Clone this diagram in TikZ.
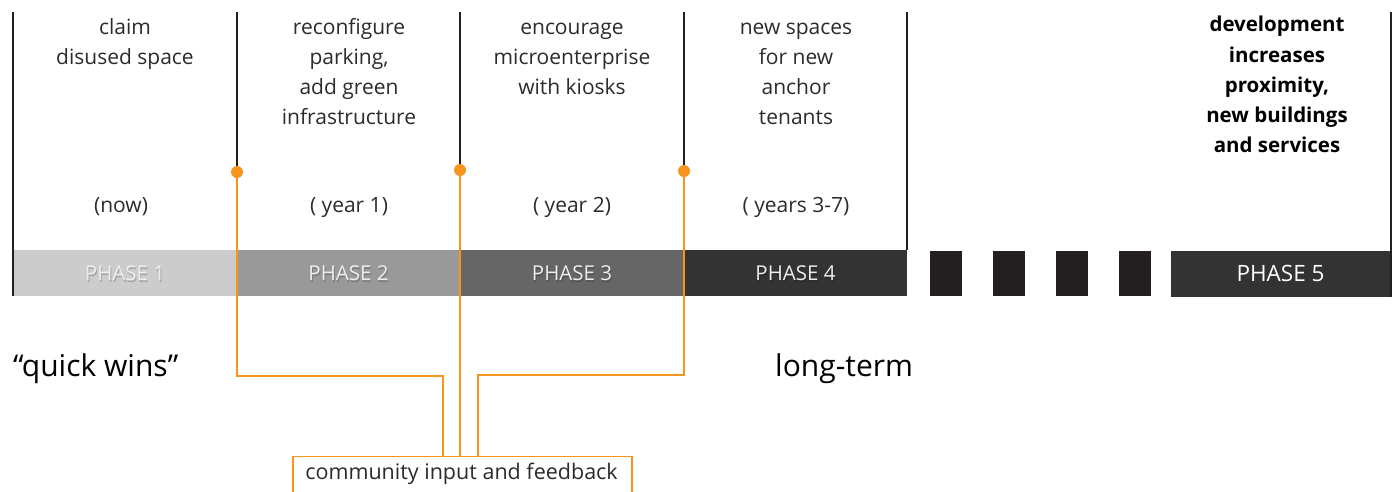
\documentclass[tikz,border=0pt]{standalone}
\usepackage{fontspec}
\setmainfont{Open Sans}
\definecolor{orng}{HTML}{F7941E}
\definecolor{ink}{HTML}{231F20}
\definecolor{txtc}{HTML}{2B2B2B}
\begin{document}
\begin{tikzpicture}[x=1pt,y=-1pt,
  toptxt/.style={font=\fontsize{21}{30}\selectfont, text=txtc, align=center, inner sep=0pt, anchor=north},
  yeartxt/.style={font=\fontsize{21}{30}\selectfont, text=txtc, inner sep=0pt, anchor=base},
  bar/.style={minimum height=46pt, inner sep=0pt, text=white!93!black, font=\fontsize{20.5}{22}\selectfont},
  sq/.style={fill=ink, minimum width=32pt, minimum height=45pt, inner sep=0pt},
  divider/.style={draw=ink, line width=1.2pt},
  feed/.style={draw=orng, line width=1.4pt},
  dot/.style={circle, fill=orng, minimum size=12pt, inner sep=0pt},
  bigtxt/.style={font=\fontsize{30}{34}\selectfont, text=black, inner sep=0pt, anchor=base west}]
\useasboundingbox (0,0) rectangle (1394,491);
\clip (0,0) rectangle (1394,491);
% phase bars
\node[bar, fill=black!20, minimum width=224pt] (p1) at (125,273) {};
\node[bar, fill=black!40, minimum width=223pt] (p2) at (348.5,273) {};
\node[bar, fill=black!60, minimum width=224pt] (p3) at (572,273) {};
\node[bar, fill=black!80, minimum width=223pt] (p4) at (795.5,273) {};
\node[sq] (s1) at (946,273.5) {};
\node[sq] (s2) at (1009,273.5) {};
\node[sq] (s3) at (1072,273.5) {};
\node[sq] (s4) at (1135,273.5) {};
\node[bar, fill=black!80, minimum width=219pt] (p5) at (1280.5,273.5) {};
% phase labels with a soft shadow
\foreach \n/\t in {p1/PHASE 1, p2/PHASE 2, p3/PHASE 3, p4/PHASE 4}{
  \node[font=\fontsize{20.5}{22}\selectfont, text=black, opacity=0.18, inner sep=0pt] at ([shift={(1,2)}]\n.center) {\t};
  \node[font=\fontsize{20.5}{22}\selectfont, text=white!93!black, inner sep=0pt] (\n l) at (\n.center) {\t};
}
\node[font=\fontsize{22.5}{24}\selectfont, text=white, inner sep=0pt] (p5l) at (p5.center) {PHASE 5};
% dividers
\coordinate (t0) at (13,12);
\coordinate (t1) at (237,12);
\coordinate (t2) at (460,12);
\coordinate (t3) at (684,12);
\coordinate (t4) at (907,12);
\coordinate (t5) at (1391,12);
\draw[divider] (t0) -- (t0 |- p1.south);
\draw[divider] (t1) -- (237,172);
\draw[divider] (t2) -- (460,170);
\draw[divider] (t3) -- (684,171);
\draw[divider] (t4) -- (t4 |- p4.north);
\draw[divider] (t5) -- (t5 |- p5.south);
\node[dot] (d1) at (237,172) {};
\node[dot] (d2) at (460,170) {};
\node[dot] (d3) at (684,171) {};
% texts
\node[toptxt] (a1) at (125,13) {\strut claim\\disused space};
\node[toptxt] (a2) at (349,13) {\strut reconfigure\\parking,\\add green\\infrastructure};
\node[toptxt] (a3) at (572,13) {\strut encourage\\microenterprise\\with kiosks};
\node[toptxt] (a4) at (796,13) {\strut new spaces\\for new\\anchor\\tenants};
\node[toptxt, font=\fontsize{20.5}{30.2}\selectfont\bfseries, text=black] (a5) at (1277,10.5) {\strut development\\increases\\proximity,\\new buildings\\and services};
\node[yeartxt] (y1) at (121,212) {(now)};
\node[yeartxt] (y2) at (349,212) {( year 1)};
\node[yeartxt] (y3) at (572,212) {( year 2)};
\node[yeartxt] (y4) at (796,212) {( years 3-7)};
\node[bigtxt] (qw) at (13,376) {“quick wins”};
\node[bigtxt] (lt) at (775,376) {long-term};
% community box
\node[draw=orng, line width=1.4pt, minimum width=339pt, minimum height=44pt, inner sep=0pt, anchor=north] (cb) at (462.5,456) {};
\node[font=\fontsize{21.5}{24}\selectfont, text=txtc, inner sep=0pt, anchor=base] (cbt) at (461.5,479) {community input and feedback};
% feedback connectors
\coordinate (k1) at (443,376);
\coordinate (k3) at (478,375);
\draw[feed] (d1.center) |- (k1) -- (k1 |- cb.north);
\draw[feed] (d2.center) -- (d2 |- cb.north);
\draw[feed] (d3.center) |- (k3) -- (k3 |- cb.north);
\end{tikzpicture}
\end{document}
